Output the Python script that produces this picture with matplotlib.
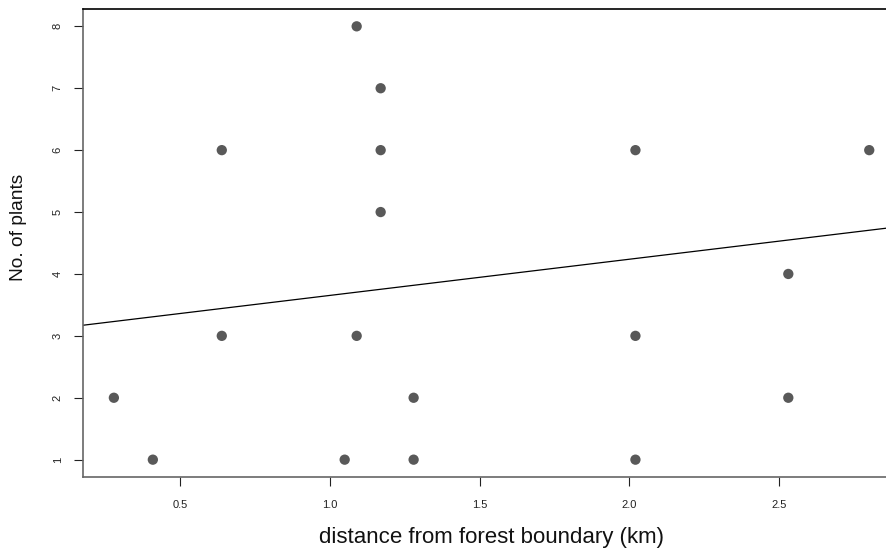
import matplotlib
matplotlib.use("Agg")
import matplotlib.pyplot as plt
import numpy as np

# data
distance_km = [0.28, 0.41, 0.64, 0.64, 1.05, 1.09, 1.09, 1.17, 1.17, 1.17,
               1.28, 1.28, 2.02, 2.02, 2.02, 2.53, 2.53, 2.80]
n_plants = [2, 1, 6, 3, 1, 8, 3, 7, 6, 5, 2, 1, 6, 3, 1, 4, 2, 6]
line_intercept = 3.068
line_slope = 0.585
x_ticks = [0.5, 1.0, 1.5, 2.0, 2.5]
x_ticklabels = ["0.5", "1.0", "1.5", "2.0", "2.5"]
y_ticks = [1, 2, 3, 4, 5, 6, 7, 8]

plt.rcParams['font.family'] = ['Liberation Sans', 'DejaVu Sans']

W, H = 887, 550
fig = plt.figure(figsize=(W / 100, H / 100), dpi=100)

xlim = (0.177, 2.904)
ylim = (0.72, 8.28)
px_per_x = 299.75
left_px, bottom_px, top_px = 83, 477, 9
width_px = (xlim[1] - xlim[0]) * px_per_x
ax = fig.add_axes([left_px / W, 1 - bottom_px / H, width_px / W, (bottom_px - top_px) / H])
ax.set_xlim(*xlim)
ax.set_ylim(*ylim)

ax.scatter(distance_km, n_plants, s=55, color='#595959', edgecolors='none', zorder=3)
xs = np.array(xlim)
ax.plot(xs, line_intercept + line_slope * xs, color='black', lw=0.9, zorder=2)

ax.set_xticks(x_ticks)
ax.set_xticklabels(x_ticklabels)
ax.set_yticks(y_ticks)
ax.set_yticklabels([str(v) for v in y_ticks], rotation=90, va='center')
ax.tick_params(axis='both', direction='out', length=6.5, width=0.8, colors='#222222', labelsize=8)
ax.tick_params(axis='x', pad=10)
ax.tick_params(axis='y', pad=8)

for s in ['left', 'bottom']:
    ax.spines[s].set_color('#666666')
    ax.spines[s].set_linewidth(1.2)
ax.spines['top'].set_color('black')
ax.spines['top'].set_linewidth(1.2)
ax.spines['right'].set_visible(False)

ax.set_xlabel('distance from forest boundary (km)', fontsize=16, color='#111111')
ax.set_ylabel('No. of plants', fontsize=13.8, color='#111111')
plot_h = bottom_px - top_px
ax.xaxis.label.set_va('center')
ax.xaxis.set_label_coords(0.5, -(538 - bottom_px) / plot_h)
ax.yaxis.label.set_va('center')
ax.yaxis.set_label_coords((19 - left_px) / width_px, (bottom_px - 227) / plot_h)

fig.savefig('out.png', dpi=100)
